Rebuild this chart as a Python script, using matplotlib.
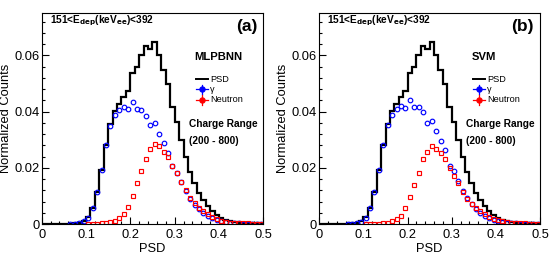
import numpy as np
import matplotlib.pyplot as plt
from matplotlib.ticker import MultipleLocator

plt.rcParams['font.family'] = ['Liberation Sans', 'DejaVu Sans']

# PSD bins (width 0.01 from 0 to 0.5)
edges = np.round(np.arange(0, 0.5001, 0.01), 2)
centers = (edges[:-1] + edges[1:]) / 2

psd = [0, 0, 0, 0, 0, 0, 0.0001, 0.0002, 0.0004, 0.0010,
       0.0025, 0.0057, 0.0114, 0.0192, 0.0280, 0.0357, 0.0402, 0.0428, 0.0453, 0.0472,
       0.0537, 0.0558, 0.0602, 0.0634, 0.0622, 0.0647, 0.0600, 0.0550, 0.0500, 0.0418,
       0.0362, 0.0300, 0.0240, 0.0185, 0.0145, 0.0112, 0.0086, 0.0065, 0.0047, 0.0033,
       0.0022, 0.0015, 0.0010, 0.0007, 0.0005, 0.0004, 0.0003, 0.0002, 0.0002, 0.0001]

gamma_mlp = [None] * 6 + [
    0.0001, 0.0001, 0.0003, 0.0010,
    0.0021, 0.0058, 0.0115, 0.0191, 0.0280, 0.0350, 0.0388, 0.0406, 0.0418, 0.0408,
    0.0435, 0.0410, 0.0406, 0.0386, 0.0353, 0.0361, 0.0322, 0.0287, 0.0254, 0.0207,
    0.0180, 0.0148, 0.0117, 0.0088, 0.0068, 0.0052, 0.0040, 0.0030, 0.0021, 0.0015,
    0.0010, 0.0007, 0.0004, 0.0003, 0.0002, 0.0001, 0.0001, 0.0001, 0.0001, 0.0001]

neutron_mlp = [None] * 10 + [
    0.0001, 0.0001, 0.0001, 0.0002, 0.0003, 0.0006, 0.0011, 0.0020, 0.0034, 0.0062,
    0.0100, 0.0145, 0.0190, 0.0231, 0.0266, 0.0285, 0.0276, 0.0258, 0.0240, 0.0207,
    0.0180, 0.0150, 0.0120, 0.0093, 0.0075, 0.0058, 0.0045, 0.0034, 0.0025, 0.0018,
    0.0012, 0.0008, 0.0005, 0.0004, 0.0003, 0.0002, 0.0002, 0.0001, 0.0001, 0.0001]

gamma_svm = [None] * 6 + [
    0.0001, 0.0001, 0.0003, 0.0008,
    0.0021, 0.0057, 0.0114, 0.0191, 0.0280, 0.0351, 0.0389, 0.0410, 0.0421, 0.0414,
    0.0442, 0.0416, 0.0416, 0.0397, 0.0361, 0.0368, 0.0331, 0.0294, 0.0262, 0.0208,
    0.0187, 0.0152, 0.0118, 0.0092, 0.0071, 0.0054, 0.0040, 0.0029, 0.0020, 0.0014,
    0.0009, 0.0006, 0.0004, 0.0003, 0.0002, 0.0001, 0.0001, 0.0001, 0.0001, 0.0001]

neutron_svm = [None] * 10 + [
    0.0001, 0.0001, 0.0001, 0.0001, 0.0002, 0.0004, 0.0009, 0.0017, 0.0030, 0.0056,
    0.0095, 0.0139, 0.0183, 0.0231, 0.0255, 0.0278, 0.0266, 0.0254, 0.0230, 0.0198,
    0.0171, 0.0145, 0.0115, 0.0090, 0.0072, 0.0057, 0.0045, 0.0035, 0.0026, 0.0019,
    0.0013, 0.0009, 0.0006, 0.0004, 0.0003, 0.0002, 0.0002, 0.0001, 0.0001, 0.0001]

xticks = [0, 0.1, 0.2, 0.3, 0.4, 0.5]
xtick_labels = ["0", "0.1", "0.2", "0.3", "0.4", "0.5"]
yticks = [0, 0.02, 0.04, 0.06]
ytick_labels = ["0", "0.02", "0.04", "0.06"]

title_txt = r"151<E$_{\mathbf{dep}}$(keV$_{\mathbf{ee}}$)<392"

BLUE = "#0000ff"
RED = "#ff0000"


def draw_panel(ax, gamma, neutron, method, tag, ylab_x):
    ax.stairs(psd, edges, color="black", lw=1.6, baseline=None)
    ax.plot(centers, np.array(gamma, dtype=float), ls="none", marker="o",
            ms=3.3, mfc="none", mec=BLUE, mew=0.85)
    ax.plot(centers, np.array(neutron, dtype=float), ls="none", marker="s",
            ms=3.2, mfc="none", mec=RED, mew=0.85)

    ax.set_xlim(0, 0.5)
    ax.set_ylim(0, 0.0751)
    ax.set_xticks(xticks)
    ax.set_xticklabels(xtick_labels)
    ax.set_yticks(yticks)
    ax.set_yticklabels(ytick_labels)
    ax.xaxis.set_minor_locator(MultipleLocator(0.02))
    ax.yaxis.set_minor_locator(MultipleLocator(0.004))
    ax.tick_params(which="both", direction="in", top=False, right=False,
                   labelsize=9.3, width=0.8)
    ax.tick_params(axis="x", which="both", pad=3.5)
    ax.tick_params(axis="y", which="both", pad=1.7)
    ax.tick_params(which="major", length=5)
    ax.tick_params(which="minor", length=2.5)
    for s in ax.spines.values():
        s.set_linewidth(0.8)

    ax.set_xlabel("PSD", fontsize=9.3)
    ax.set_ylabel("Normalized Counts", fontsize=9.3)
    ax.xaxis.set_label_coords(0.5, -0.09)
    ax.yaxis.set_label_coords(ylab_x, 0.5)

    ax.text(0.037, 0.953, title_txt, transform=ax.transAxes, fontsize=7.3,
            fontweight="bold", va="baseline", ha="left")
    ax.text(0.972, 0.934, tag, transform=ax.transAxes, fontsize=12.5,
            fontweight="bold", va="center", ha="right")
    ax.text(0.69, 0.791, method, transform=ax.transAxes, fontsize=8.1,
            fontweight="bold", va="center", ha="left")

    # legend
    lx0, lx1 = 0.697, 0.751
    lxm = (lx0 + lx1) / 2
    rows = [0.687, 0.638, 0.588]
    ax.plot([lx0, lx1], [rows[0]] * 2, color="black", lw=1.4,
            transform=ax.transAxes, clip_on=False)
    for yy, col in [(rows[1], BLUE), (rows[2], RED)]:
        ax.plot([lx0, lx1], [yy] * 2, color=col, lw=0.9,
                transform=ax.transAxes, clip_on=False)
        ax.plot([lxm, lxm], [yy - 0.022, yy + 0.022], color=col, lw=0.9,
                transform=ax.transAxes, clip_on=False)
        ax.plot([lxm], [yy], marker="o", ms=3.6, color=col, mfc=col,
                transform=ax.transAxes, clip_on=False)
    for yy, lab in zip(rows, ["PSD", "\u03b3", "Neutron"]):
        ax.text(lx1 + 0.01, yy, lab, transform=ax.transAxes, fontsize=6.6,
                va="center", ha="left")

    ax.text(0.665, 0.474, "Charge Range", transform=ax.transAxes,
            fontsize=7.3, fontweight="bold", va="center", ha="left")
    ax.text(0.665, 0.393, "(200 - 800)", transform=ax.transAxes,
            fontsize=7.3, fontweight="bold", va="center", ha="left")


fig = plt.figure(figsize=(5.55, 2.65), dpi=100)
ax_a = fig.add_axes([0.0751, 0.1547, 0.3993, 0.796])
ax_b = fig.add_axes([0.5753, 0.1547, 0.3977, 0.796])

draw_panel(ax_a, gamma_mlp, neutron_mlp, "MLPBNN", "(a)", -0.134)
draw_panel(ax_b, gamma_svm, neutron_svm, "SVM", "(b)", -0.137)

fig.savefig("out.png", dpi=100)
